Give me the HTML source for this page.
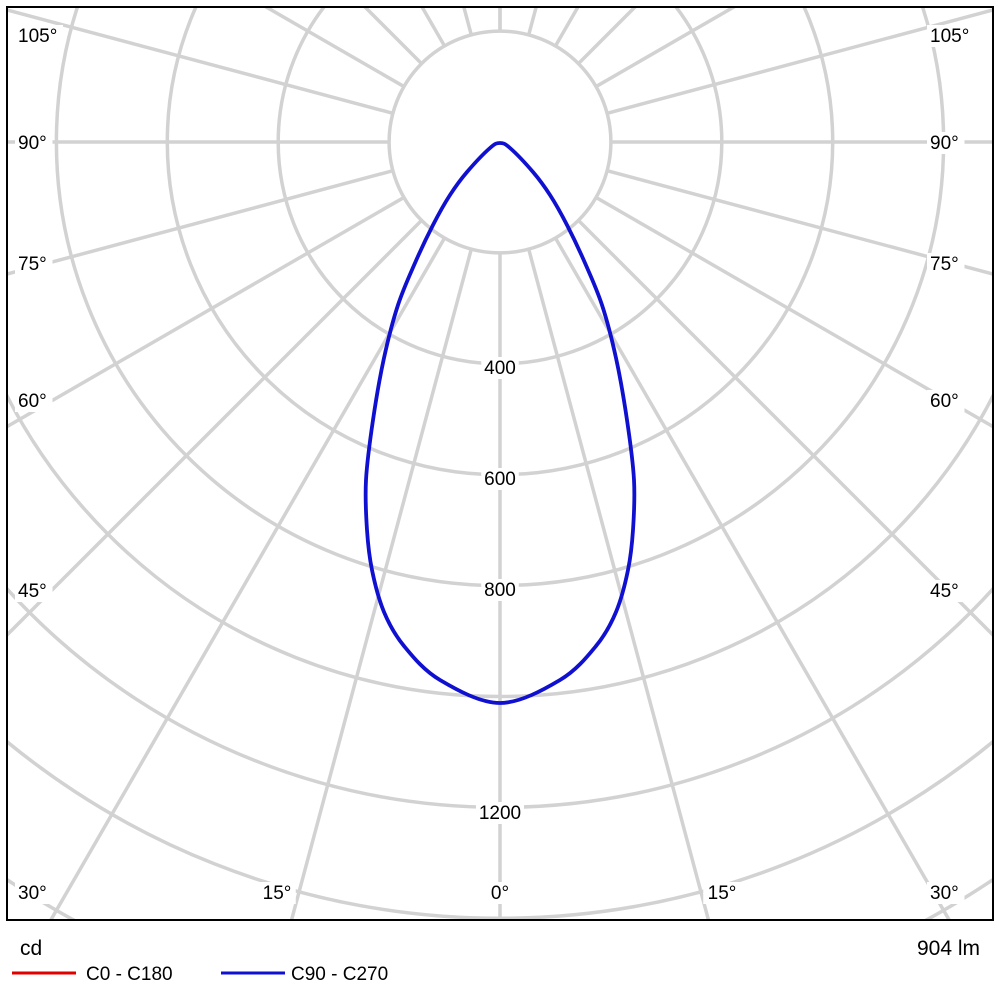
<!DOCTYPE html>
<html><head><meta charset="utf-8"><style>
html,body{margin:0;padding:0;background:#fff;width:1000px;height:1000px;overflow:hidden;}
svg{display:block;font-family:"Liberation Sans",Arial,sans-serif;}
</style></head><body>
<svg id="s" width="1000" height="1000" viewBox="0 0 1000 1000" xmlns="http://www.w3.org/2000/svg">
<defs><clipPath id="c"><rect x="7" y="7" width="986" height="913"/></clipPath></defs>
<rect width="1000" height="1000" fill="#fff"/>
<g id="grid" clip-path="url(#c)" stroke="#d2d2d2" stroke-width="3.5" fill="none"></g>
<g id="lab" font-size="19" fill="#000"></g>
<path id="curve" fill="none" stroke="#1010d0" stroke-width="3.8" stroke-linejoin="round" clip-path="url(#c)"/>
<rect x="7" y="7" width="986" height="913" fill="none" stroke="#000" stroke-width="2"/>
<text x="20" y="955" font-size="21">cd</text>
<text x="980" y="955" font-size="21" text-anchor="end">904 lm</text>
<line x1="12" y1="973" x2="76" y2="973" stroke="#e00000" stroke-width="3"/>
<text x="86" y="980" font-size="19">C0 - C180</text>
<line x1="221" y1="973" x2="285" y2="973" stroke="#1010d0" stroke-width="3"/>
<text x="291" y="980" font-size="19">C90 - C270</text>
</svg>
<script>
var NS="http://www.w3.org/2000/svg",cx=500,cy=142,u=110.9;
var g=document.getElementById('grid'),lab=document.getElementById('lab');
function el(t,a,p){var e=document.createElementNS(NS,t);for(var k in a)e.setAttribute(k,a[k]);p.appendChild(e);return e;}
for(var k=1;k<=10;k++)el('circle',{cx:cx,cy:cy,r:k*u},g);
for(var a=-180;a<=180;a+=15){var t=a*Math.PI/180,dx=Math.sin(t),dy=Math.cos(t);
el('line',{x1:cx+dx*u,y1:cy+dy*u,x2:cx+dx*1500,y2:cy+dy*1500},g);}
function txt(x,y,s,anc){var w=s.length*10.5+6;el('rect',{x:anc=='middle'?x-w/2:x-3,y:y-17,width:w,height:22,fill:'#fff'},lab);var e=el('text',{x:x,y:y,'text-anchor':anc||'start'},lab);e.textContent=s;}
[['105°',42],['90°',149],['75°',270],['60°',407],['45°',597],['30°',899]].forEach(function(p){txt(18,p[1],p[0]);txt(930,p[1],p[0]);});
txt(277,899,'15°','middle');txt(500,899,'0°','middle');txt(722,899,'15°','middle');
txt(500,374,'400','middle');txt(500,485,'600','middle');txt(500,596,'800','middle');txt(500,819,'1200','middle');
var L=[[500,143],[490,148],[467,172],[450,195],[433,225],[415,263],[398,305],[384,358],[373,420],[366,480],[367,530],[372,570],[384,612],[404,646],[440,680],[500,703]];
var P=L.slice();for(var i=L.length-2;i>=0;i--)P.push([1000-L[i][0],L[i][1]]);
var n=P.length,d='M'+P[0][0]+','+P[0][1];
for(var i=0;i<n-1;i++){var p0=P[i>0?i-1:n-2],p1=P[i],p2=P[i+1],p3=P[i+2<n?i+2:1];
d+='C'+(p1[0]+(p2[0]-p0[0])/6).toFixed(1)+','+(p1[1]+(p2[1]-p0[1])/6).toFixed(1)+' '+(p2[0]-(p3[0]-p1[0])/6).toFixed(1)+','+(p2[1]-(p3[1]-p1[1])/6).toFixed(1)+' '+p2[0]+','+p2[1];}
document.getElementById('curve').setAttribute('d',d);
</script>
</body></html>
